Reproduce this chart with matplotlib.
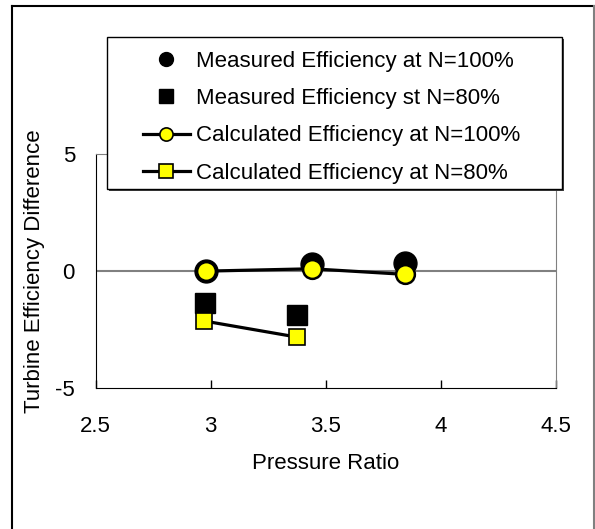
import matplotlib
matplotlib.use("Agg")
import matplotlib.pyplot as plt
from matplotlib.lines import Line2D
from matplotlib.patches import Rectangle

plt.rcParams['font.family'] = ['Liberation Sans', 'DejaVu Sans']
plt.rcParams['axes.unicode_minus'] = False

# donnees
pr_meas_100 = [2.98, 3.44, 3.845]
eff_meas_100 = [0.02, 0.29, 0.36]
pr_meas_80 = [2.975, 3.373]
eff_meas_80 = [-1.36, -1.89]
pr_calc_100 = [2.98, 3.44, 3.845]
eff_calc_100 = [0.0, 0.10, -0.14]
pr_calc_80 = [2.972, 3.376]
eff_calc_80 = [-2.14, -2.83]

xticks = [2.5, 3, 3.5, 4, 4.5]
xtick_labels = ["2.5", "3", "3.5", "4", "4.5"]
yticks = [-5, 0, 5]
labels = ["Measured Efficiency at N=100%", "Measured Efficiency st N=80%",
          "Calculated Efficiency at N=100%", "Calculated Efficiency at N=80%"]

W, H = 595, 529
fig = plt.figure(figsize=(W / 100, H / 100), dpi=100)
ax = fig.add_axes([0.161, 0.267, 0.773, 0.441])

ax.axhline(0, color='#808080', lw=1.5, zorder=1)

ax.plot(pr_meas_100, eff_meas_100, 'o', color='black', ms=16.5, zorder=2)
ax.plot(pr_meas_80, eff_meas_80, 's', color='black', ms=15, zorder=2)
ax.plot(pr_calc_100, eff_calc_100, '-o', color='black', lw=2.3, ms=13.5,
        mfc='yellow', mec='black', mew=1.8, zorder=3)
ax.plot(pr_calc_80, eff_calc_80, '-s', color='black', lw=2.3, ms=12,
        mfc='yellow', mec='black', mew=1.2, zorder=3)

ax.set_xlim(2.5, 4.5)
ax.set_ylim(-5, 5)
ax.set_xticks(xticks)
ax.set_xticklabels(xtick_labels)
ax.set_yticks(yticks)
ax.tick_params(direction='in', labelsize=16, length=6, width=1)
ax.tick_params(axis='x', pad=20)
ax.tick_params(axis='y', length=0, pad=15)
for s in ['top', 'right']:
    ax.spines[s].set_color('#808080')
for s in ['left', 'bottom']:
    ax.spines[s].set_color('black')

ax.set_xlabel("Pressure Ratio", fontsize=16, labelpad=12)
ax.set_ylabel("Turbine Efficiency Difference", fontsize=16, labelpad=7.5)

# legende avec cadre ombre
fig.add_artist(Rectangle((109 / W, 1 - 191 / H), 455 / W, 152 / H, transform=fig.transFigure,
                         facecolor='#404040', edgecolor='none', zorder=3))
fig.add_artist(Rectangle((107 / W, 1 - 189 / H), 455 / W, 152 / H, transform=fig.transFigure,
                         facecolor='white', edgecolor='black', lw=1, zorder=3.5))
handles = [
    Line2D([], [], ls='none', marker='o', color='black', ms=10),
    Line2D([], [], ls='none', marker='s', color='black', ms=10),
    Line2D([], [], color='black', lw=2.3, marker='o', mfc='yellow', mec='black', ms=9.5, mew=1.2),
    Line2D([], [], color='black', lw=2.3, marker='s', mfc='yellow', mec='black', ms=9.5, mew=1.2),
]
leg = fig.legend(handles, labels, loc='upper left', bbox_to_anchor=(143 / W, 1 - 51 / H),
                 fontsize=16, frameon=False, borderpad=0, borderaxespad=0,
                 handlelength=2.1, labelspacing=0.73, handletextpad=0.27)
leg.set_zorder(4)

# cadre exterieur
fig.add_artist(Line2D([12 / W, 12 / W], [0, 1 - 6 / H], color='black', lw=1.5))
fig.add_artist(Line2D([12 / W, 594 / W], [1 - 6 / H, 1 - 6 / H], color='black', lw=1.5))
fig.add_artist(Line2D([594 / W, 594 / W], [0, 1 - 6 / H], color='#808080', lw=1.5))

fig.savefig("out.png", dpi=100)
